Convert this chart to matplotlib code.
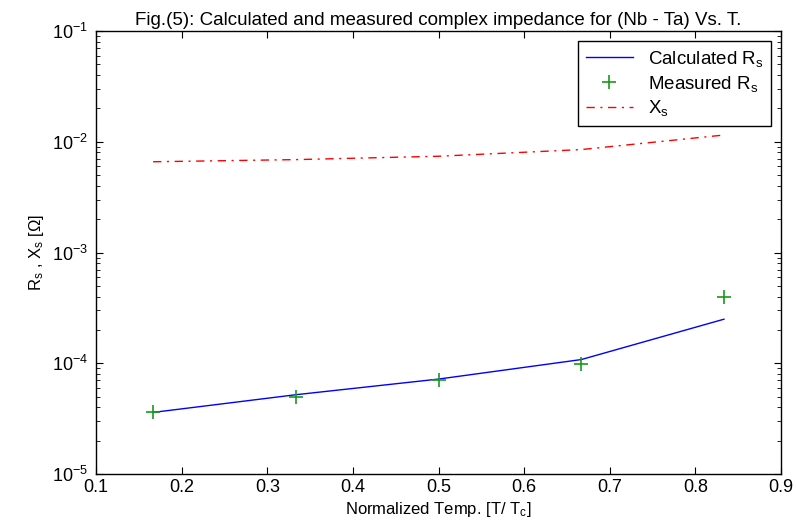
import matplotlib
matplotlib.use("Agg")
import matplotlib.pyplot as plt
import numpy as np

plt.rcParams['font.family'] = ['Liberation Sans', 'DejaVu Sans']
plt.rcParams['mathtext.fontset'] = 'custom'
plt.rcParams['mathtext.rm'] = 'Liberation Sans'
plt.rcParams['mathtext.it'] = 'Liberation Sans'

t_norm = [1/6, 2/6, 3/6, 4/6, 5/6]
rs_calc = [3.6e-5, 5.2e-5, 7.2e-5, 1.08e-4, 2.5e-4]
rs_meas = [3.6e-5, 5.0e-5, 7.0e-5, 9.9e-5, 4.0e-4]
xs_vals = [6.6e-3, 6.9e-3, 7.4e-3, 8.5e-3, 1.15e-2]
x_ticks = [0.1, 0.2, 0.3, 0.4, 0.5, 0.6, 0.7, 0.8, 0.9]

fig = plt.figure(figsize=(7.96, 5.31), dpi=100)
ax = fig.add_axes([0.1206, 0.1073, 0.8606, 0.8343])

ax.plot(t_norm, rs_calc, color='blue', lw=1.0, label='Calculated R$_\\mathrm{s}$')
ax.plot(t_norm, rs_meas, ls='none', marker='+', ms=10, mew=1.2, color='#1a9a1a', label='Measured R$_\\mathrm{s}$')
ax.plot(t_norm, xs_vals, color='red', lw=1.0, dashes=(6, 4, 1.5, 4), label='X$_\\mathrm{s}$')

ax.set_yscale('log')
ax.set_ylim(1e-5, 1e-1)
ax.set_xlim(0.1, 0.9)
ax.set_xticks(x_ticks)
ax.set_xticklabels([f"{v:.1f}" for v in x_ticks])
ax.tick_params(which='both', direction='in', top=True, right=True, labelsize=13)
ax.tick_params(which='major', length=5)
ax.tick_params(which='minor', length=3)
ax.tick_params(axis='y', which='major', pad=6)
for s in ax.spines.values():
    s.set_linewidth(1.0)

ax.set_xlabel('Normalized Temp. [T/ T$_\\mathrm{c}$]', fontsize=12, labelpad=3)
ax.set_ylabel('R$_\\mathrm{s}$ , X$_\\mathrm{s}$ [Ω]', fontsize=12, labelpad=4)
ax.set_title('Fig.(5): Calculated and measured complex impedance for (Nb - Ta) Vs. T.', fontsize=13.5, pad=4)

leg = ax.legend(loc='upper right', fontsize=13.5, fancybox=False, framealpha=1,
                edgecolor='black', borderaxespad=0.55, handlelength=2.5,
                labelspacing=0.25, borderpad=0.4, bbox_to_anchor=(1.0, 1.0))
leg.get_frame().set_linewidth(1.0)

fig.savefig('out.png', dpi=100)
